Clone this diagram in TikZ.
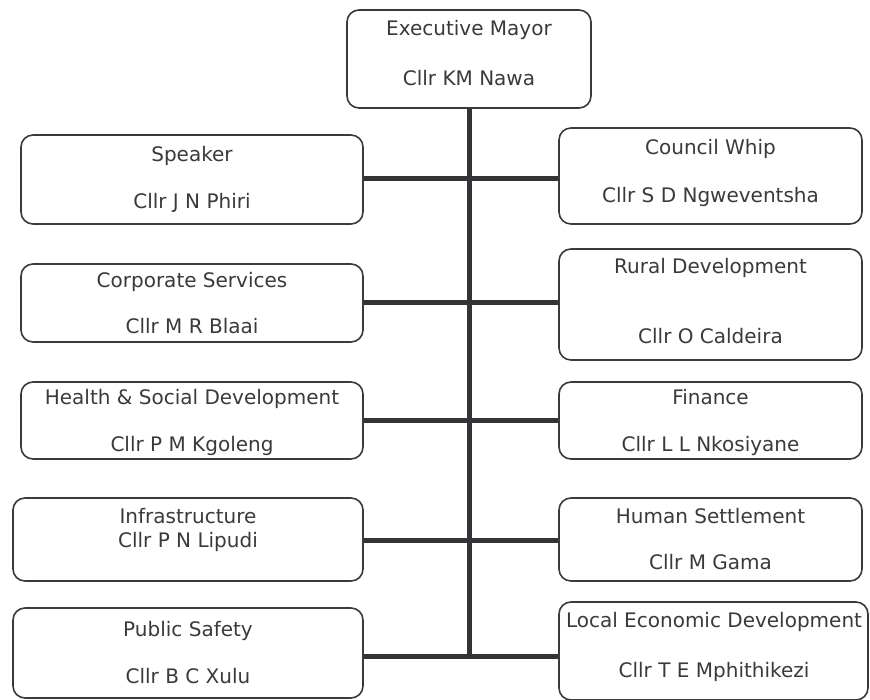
\documentclass[tikz,border=0pt]{standalone}
\usepackage{fontspec}
\setmainfont{DejaVu Sans}
\usetikzlibrary{backgrounds}
\definecolor{ink}{HTML}{3A3A3A}
\definecolor{bar}{HTML}{333438}
\begin{document}
\begin{tikzpicture}[x=1pt,y=1pt,
  box/.style={draw=ink, line width=1.6pt, rounded corners=12pt, fill=white, inner sep=0pt},
  txt/.style={anchor=base, text=ink, inner sep=0pt, font=\fontsize{20}{24}\selectfont},
  conn/.style={draw=bar, line width=5pt, line cap=rect}]
\useasboundingbox (0,0) rectangle (870,-700);
% boxes
\node[box, minimum width=244, minimum height=98] (mayor) at (469,-59) {};
\node[box, minimum width=342, minimum height=89] (speaker) at (192,-179.5) {};
\node[box, minimum width=342, minimum height=78] (corp) at (192,-303) {};
\node[box, minimum width=342, minimum height=77] (health) at (192,-420.5) {};
\node[box, minimum width=350, minimum height=83] (infra) at (188,-539.5) {};
\node[box, minimum width=350, minimum height=90] (safety) at (188,-653) {};
\node[box, minimum width=303, minimum height=96] (whip) at (710.5,-176) {};
\node[box, minimum width=303, minimum height=111] (rural) at (710.5,-304.5) {};
\node[box, minimum width=303, minimum height=77] (finance) at (710.5,-420.5) {};
\node[box, minimum width=303, minimum height=83] (human) at (710.5,-539.5) {};
\node[box, minimum width=309, minimum height=98] (led) at (713.5,-651) {};
% texts
\node[txt] (t1a) at (469,-36) {Executive Mayor};
\node[txt] (t1b) at (469,-86) {Cllr KM Nawa};
\node[txt] (t2a) at (192,-161.5) {Speaker};
\node[txt] (t2b) at (192,-209) {Cllr J N Phiri};
\node[txt] (t3a) at (192,-288) {Corporate Services};
\node[txt] (t3b) at (192,-334) {Cllr M R Blaai};
\node[txt] (t4a) at (192,-405) {Health \& Social Development};
\node[txt] (t4b) at (192,-451) {Cllr P M Kgoleng};
\node[txt] (t5a) at (188,-523) {Infrastructure};
\node[txt] (t5b) at (188,-547) {Cllr P N Lipudi};
\node[txt] (t6a) at (188,-636) {Public Safety};
\node[txt] (t6b) at (188,-683) {Cllr B C Xulu};
\node[txt] (t7a) at (710.5,-155) {Council Whip};
\node[txt] (t7b) at (710.5,-203) {Cllr S D Ngweventsha};
\node[txt] (t8a) at (710.5,-274) {Rural Development};
\node[txt] (t8b) at (710.5,-344) {Cllr O Caldeira};
\node[txt] (t9a) at (710.5,-405) {Finance};
\node[txt] (t9b) at (710.5,-451) {Cllr L L Nkosiyane};
\node[txt] (t10a) at (710.5,-523) {Human Settlement};
\node[txt] (t10b) at (710.5,-569) {Cllr M Gama};
\node[txt] (t11a) at (714,-627) {Local Economic Development};
\node[txt] (t11b) at (714,-677) {Cllr T E Mphithikezi};
% junctions on the trunk
\coordinate (j1) at (469,-179);
\coordinate (j2) at (469,-303);
\coordinate (j3) at (469,-420);
\coordinate (j4) at (469,-540);
\coordinate (j5) at (469,-656);
\begin{scope}[on background layer]
\draw[conn] (mayor.south) -- (j5);
\draw[conn] (speaker.east |- j1) -- (whip.west |- j1);
\draw[conn] (corp.east |- j2) -- (rural.west |- j2);
\draw[conn] (health.east |- j3) -- (finance.west |- j3);
\draw[conn] (infra.east |- j4) -- (human.west |- j4);
\draw[conn] (safety.east |- j5) -- (led.west |- j5);
\end{scope}
\end{tikzpicture}
\end{document}
